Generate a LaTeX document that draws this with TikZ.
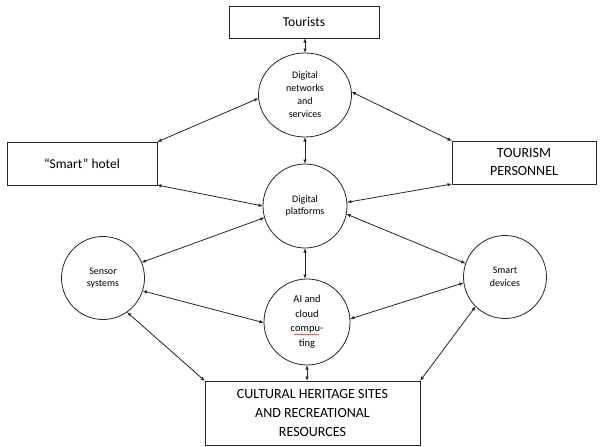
\documentclass[tikz,border=0pt]{standalone}
\usepackage{fontspec}
\setmainfont{Carlito}
\usetikzlibrary{arrows.meta,shapes.geometric,decorations.pathmorphing}
\begin{document}
\begin{tikzpicture}[x=1pt,y=-1pt,
  every node/.style={inner sep=0pt, outer sep=0pt},
  boxnode/.style={draw=black!85, line width=0.8pt, align=center},
  circnode/.style={draw=black!85, line width=0.8pt, circle, align=center, font=\fontsize{10}{12.5}\selectfont},
  link/.style={draw=black!85, line width=0.8pt, {Latex[length=4.5pt,width=3.5pt]}-{Latex[length=4.5pt,width=3.5pt]}}
]
\useasboundingbox (0,0) rectangle (600,447);

% boxes
\node[boxnode, minimum width=150pt, minimum height=32pt, font=\fontsize{13.5}{16}\selectfont] (tourists) at (304,22) {Tourists};
\node[boxnode, minimum width=150pt, minimum height=43pt, font=\fontsize{13.5}{16}\selectfont] (hotel) at (82,163.5) {“Smart” hotel};
\node[boxnode, minimum width=144pt, minimum height=43pt, font=\fontsize{14}{18}\selectfont] (personnel) at (524,162.5) {TOURISM\\PERSONNEL};
\node[boxnode, minimum width=215pt, minimum height=64pt, font=\fontsize{14}{19}\selectfont] (heritage) at (312.5,413) {CULTURAL HERITAGE SITES\\AND RECREATIONAL\\RESOURCES};

% circles
\node[draw=black!85, line width=0.8pt, ellipse, minimum width=93pt, minimum height=84pt, align=center, font=\fontsize{10}{13}\selectfont] (networks) at (305,95) {Digital\\networks\\and\\services};
\node[circnode, minimum size=84pt] (platforms) at (305,206) {Digital\\platforms};
\node[circnode, minimum size=86pt, font=\fontsize{10.5}{14.5}\selectfont] (ai) at (307,322) {AI and\\cloud\\compu-\\ting};
\node[circnode, minimum size=83pt] (sensor) at (103,278) {Sensor\\systems};
\node[circnode, minimum size=83pt] (smart) at (505,277) {Smart\\devices};

% spell-check squiggle under "compu"
\coordinate (sq1) at (293.5,334.5);
\coordinate (sq2) at (319,334.5);
\draw[red!80!black, line width=0.4pt, decorate, decoration={snake, amplitude=0.6pt, segment length=2.5pt}] (sq1) -- (sq2);

% vertical links
\draw[link] (tourists.south -| networks.north) -- (networks.north);
\draw[link] (networks.south) -- (platforms.north);
\draw[link] (platforms.south) -- (ai.north -| platforms.south);
\draw[link] (ai.south) -- (ai.south |- heritage.north);

% links to boxes
\draw[link] (hotel.north east) -- (networks.184);
\draw[link] (personnel.north west) -- (networks.4);
\draw[link] (hotel.south east) -- (platforms.180);
\draw[link] (personnel.south west) -- (platforms.5);

% sensor & smart devices
\draw[link] (sensor.22) -- (platforms.196);
\draw[link] (smart.161) -- (platforms.349);
\draw[link] (sensor.342) -- (ai.181);
\draw[link] (smart.188) -- (ai.4);
\draw[link] (sensor.305) -- (heritage.north west);
\draw[link] (smart.225) -- (heritage.north east);
\end{tikzpicture}
\end{document}
